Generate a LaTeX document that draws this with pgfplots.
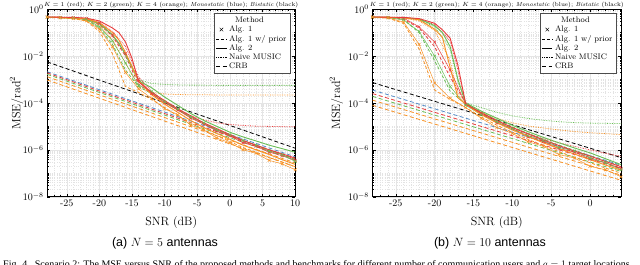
\documentclass[border=0pt]{standalone}
\usepackage{fontspec}
\usepackage{pgfplots}
\pgfplotsset{compat=1.18}
\newfontfamily\capsans{Liberation Sans}
\newfontfamily\capserif{Liberation Serif}
\definecolor{cR}{RGB}{232,60,60}
\definecolor{cG}{RGB}{105,190,85}
\definecolor{cO}{RGB}{247,145,35}
\definecolor{cB}{RGB}{85,140,200}
\newcommand{\lp}[2]{\addplot[#1] table[row sep=\\, header=false, x index=0, y expr=10^(\thisrowno{1})] {#2};}
\pgfplotsset{
 sAlgTwo/.style={line width=0.9pt},
 sPrior/.style={line width=0.8pt, dash pattern=on 3pt off 2pt},
 sAlgOne/.style={line width=0.5pt, mark=x, mark size=2pt, mark options={solid, line width=0.5pt}},
 sMusic/.style={line width=0.8pt, dash pattern=on 0.7pt off 1pt},
 sCRB/.style={line width=0.8pt, dash pattern=on 4pt off 2.5pt},
 legend image code/.code={\draw[mark repeat=2,mark phase=2,#1] plot coordinates {(0cm,0cm) (0.18cm,0cm) (0.36cm,0cm)};},
 every axis title shift=0pt,
 every axis/.append style={
  scale only axis, height=187.5pt,
  ytick={1e-8,1e-6,1e-4,1e-2,1},
  yticklabels={$10^{-8}$,$10^{-6}$,$10^{-4}$,$10^{-2}$,$10^{0}$},
  minor ytick={2e-8,3e-8,4e-8,5e-8,6e-8,7e-8,8e-8,9e-8,1e-7,2e-7,3e-7,4e-7,5e-7,6e-7,7e-7,8e-7,9e-7,2e-6,3e-6,4e-6,5e-6,6e-6,7e-6,8e-6,9e-6,1e-5,2e-5,3e-5,4e-5,5e-5,6e-5,7e-5,8e-5,9e-5,2e-4,3e-4,4e-4,5e-4,6e-4,7e-4,8e-4,9e-4,1e-3,2e-3,3e-3,4e-3,5e-3,6e-3,7e-3,8e-3,9e-3,2e-2,3e-2,4e-2,5e-2,6e-2,7e-2,8e-2,9e-2,1e-1,2e-1,3e-1,4e-1,5e-1,6e-1,7e-1,8e-1,9e-1},
  grid=both,
  major grid style={gray!20, line width=0.4pt},
  minor grid style={gray!22, dotted, line width=0.3pt},
  tick style={black, line width=0.4pt},
  major tick length=3pt, minor tick length=1.5pt,
  axis line style={line width=0.5pt},
  tick label style={font=\fontsize{10}{11}\selectfont},
  label style={font=\fontsize{12}{13}\selectfont},
  xlabel={SNR (dB)},
  ylabel={$\mathrm{MSE}/\mathrm{rad}^2$},
  xlabel style={at={(axis description cs:0.5,-0.138)}, anchor=center},
  title style={font=\fontsize{5.9}{7}\selectfont, at={(0.5,1)}, anchor=base, yshift=3pt},
  title={$K=1$ (red); $K=2$ (green); $K=4$ (orange); \textit{Monostatic} (blue); \textit{Bistatic} (black)},
  legend style={at={(1,1)}, anchor=north east, xshift=-5pt, yshift=-4pt,
    font=\fontsize{8}{8}\selectfont, draw=black!70, line width=0.4pt,
    inner xsep=1.5pt, inner ysep=1.5pt, row sep=-2pt, cells={anchor=west}},
 }
}
\begin{document}
\begin{tikzpicture}
% ---------------- (a) N = 5 ----------------
\begin{axis}[at={(47.2pt,68.3pt)}, anchor=south west, width=248pt,
  ymode=log, ymin=1e-8, ymax=1,
  xmin=-28, xmax=10, xtick={-25,-20,-15,-10,-5,0,5,10},
  xticklabels={-25,-20,-15,-10,-5,0,5,10}, minor xtick={-28,-27,...,10},
  ylabel style={at={(axis description cs:-0.123,0.5)}, anchor=center}]
\addlegendimage{empty legend}\addlegendentry{\hspace*{6pt}Method}
\addlegendimage{black, only marks, mark=x, mark size=2.5pt}\addlegendentry{Alg. 1}
\addlegendimage{black, sPrior}\addlegendentry{Alg. 1 w/ prior}
\addlegendimage{black, line width=1.2pt}\addlegendentry{Alg. 2}
\addlegendimage{black, sMusic}\addlegendentry{Naive MUSIC}
\addlegendimage{black, sCRB}\addlegendentry{CRB}
% CRB
\lp{black, sCRB}{-28 -2.25\\ 10 -5.93\\}
\lp{cB, sCRB}{-28 -2.67\\ 10 -6.30\\}
\lp{cR, sCRB}{-28 -2.72\\ 10 -6.38\\}
\lp{cG, sCRB}{-28 -2.78\\ 10 -6.45\\}
\lp{cO, sCRB}{-28 -2.88\\ 10 -6.56\\}
\lp{cO, sCRB}{-28 -3.02\\ 10 -6.72\\}
% Naive MUSIC
\lp{cR, sMusic}{-28 -0.33\\ -26 -0.34\\ -24 -0.36\\ -22 -0.39\\ -20 -0.55\\ -18 -0.95\\ -16 -1.6\\ -14 -2.9\\ -12 -3.5\\ -10 -3.95\\ -8 -4.3\\ -6 -4.55\\ -4 -4.72\\ -2 -4.85\\ 0 -4.92\\ 2 -4.96\\ 4 -4.99\\ 6 -5.0\\ 8 -5.01\\ 10 -5.02\\}
\lp{cG, sMusic}{-28 -0.34\\ -26 -0.35\\ -24 -0.37\\ -22 -0.41\\ -20 -0.6\\ -18 -1.1\\ -16 -1.9\\ -14 -3.0\\ -12 -3.17\\ -10 -3.21\\ -8 -3.23\\ -6 -3.24\\ -4 -3.24\\ -2 -3.25\\ 0 -3.25\\ 2 -3.25\\ 4 -3.25\\ 6 -3.25\\ 8 -3.25\\ 10 -3.25\\}
\lp{cO, sMusic}{-28 -0.34\\ -26 -0.36\\ -24 -0.38\\ -22 -0.44\\ -20 -0.7\\ -18 -1.3\\ -16 -2.3\\ -14 -3.35\\ -12 -3.55\\ -10 -3.62\\ -8 -3.64\\ -6 -3.65\\ -4 -3.65\\ -2 -3.66\\ 0 -3.66\\ 2 -3.66\\ 4 -3.66\\ 6 -3.66\\ 8 -3.66\\ 10 -3.66\\}
% Alg. 1 w/ prior
\lp{cR, sPrior}{-28 -0.34\\ -26 -0.35\\ -24 -0.37\\ -22 -0.42\\ -20 -0.65\\ -18 -1.15\\ -16 -2.0\\ -14 -3.2\\ -12 -3.6\\ -10 -3.95\\ -8 -4.3\\ -6 -4.6\\ -4 -4.9\\ -2 -5.15\\ 0 -5.4\\ 2 -5.65\\ 4 -5.85\\ 6 -6.05\\ 8 -6.22\\ 10 -6.4\\}
\lp{cG, sPrior}{-28 -0.35\\ -26 -0.36\\ -24 -0.38\\ -22 -0.45\\ -20 -0.8\\ -18 -1.5\\ -16 -2.6\\ -14 -3.3\\ -12 -3.6\\ -10 -3.95\\ -8 -4.3\\ -6 -4.6\\ -4 -4.9\\ -2 -5.15\\ 0 -5.38\\ 2 -5.6\\ 4 -5.8\\ 6 -6.0\\ 8 -6.2\\ 10 -6.4\\}
\lp{cO, sPrior}{-28 -0.35\\ -26 -0.37\\ -24 -0.4\\ -22 -0.5\\ -20 -0.95\\ -18 -1.9\\ -16 -3.3\\ -14 -3.55\\ -12 -3.85\\ -10 -4.2\\ -8 -4.55\\ -6 -4.85\\ -4 -5.15\\ -2 -5.4\\ 0 -5.65\\ 2 -5.9\\ 4 -6.1\\ 6 -6.32\\ 8 -6.52\\ 10 -6.72\\}
% Alg. 1
\lp{cR, sAlgOne}{-28 -0.33\\ -26 -0.35\\ -24 -0.36\\ -22 -0.4\\ -20 -0.6\\ -18 -1.1\\ -16 -1.9\\ -14 -3.0\\ -12 -3.6\\ -10 -4.0\\ -8 -4.3\\ -6 -4.65\\ -4 -4.9\\ -2 -5.2\\ 0 -5.4\\ 2 -5.7\\ 4 -5.85\\ 6 -6.1\\ 8 -6.25\\ 10 -6.45\\}
\lp{cG, sAlgOne}{-28 -0.34\\ -26 -0.36\\ -24 -0.38\\ -22 -0.43\\ -20 -0.75\\ -18 -1.35\\ -16 -2.3\\ -14 -3.25\\ -12 -3.5\\ -10 -3.95\\ -8 -4.25\\ -6 -4.6\\ -4 -4.85\\ -2 -5.15\\ 0 -5.35\\ 2 -5.6\\ 4 -5.8\\ 6 -6.05\\ 8 -6.2\\ 10 -6.5\\}
\lp{cO, sAlgOne}{-28 -0.34\\ -26 -0.37\\ -24 -0.4\\ -22 -0.5\\ -20 -0.85\\ -18 -1.6\\ -16 -2.7\\ -14 -3.4\\ -12 -3.8\\ -10 -4.25\\ -8 -4.5\\ -6 -4.95\\ -4 -5.15\\ -2 -5.5\\ 0 -5.7\\ 2 -6.0\\ 4 -6.15\\ 6 -6.45\\ 8 -6.6\\ 10 -6.85\\}
% Alg. 2
\lp{cG, sAlgTwo}{-28 -0.34\\ -26 -0.35\\ -24 -0.37\\ -22 -0.42\\ -20 -0.62\\ -18 -1.1\\ -17 -1.45\\ -16 -1.95\\ -15 -2.5\\ -14 -3.05\\ -12 -3.35\\ -10 -3.75\\ -8 -4.1\\ -6 -4.45\\ -4 -4.75\\ -2 -5.0\\ 0 -5.25\\ 2 -5.45\\ 4 -5.62\\ 6 -5.8\\ 8 -5.95\\ 10 -6.1\\}
\lp{cO, sAlgTwo}{-28 -0.34\\ -26 -0.35\\ -24 -0.37\\ -22 -0.41\\ -20 -0.58\\ -18 -1.0\\ -17 -1.32\\ -16 -1.85\\ -15 -2.45\\ -14 -3.05\\ -12 -3.65\\ -10 -4.05\\ -8 -4.4\\ -6 -4.75\\ -4 -5.05\\ -2 -5.3\\ 0 -5.55\\ 2 -5.8\\ 4 -6.0\\ 6 -6.2\\ 8 -6.42\\ 10 -6.62\\}
\lp{cR, sAlgTwo}{-28 -0.33\\ -26 -0.34\\ -24 -0.35\\ -22 -0.38\\ -20 -0.5\\ -18 -0.8\\ -17 -1.0\\ -16 -1.4\\ -15 -2.1\\ -14 -3.1\\ -12 -3.55\\ -10 -3.9\\ -8 -4.25\\ -6 -4.55\\ -4 -4.85\\ -2 -5.1\\ 0 -5.35\\ 2 -5.6\\ 4 -5.8\\ 6 -6.0\\ 8 -6.17\\ 10 -6.35\\}
\end{axis}
% ---------------- (b) N = 10 ----------------
\begin{axis}[at={(372.5pt,68.3pt)}, anchor=south west, width=248.6pt,
  ymode=log, ymin=1e-8, ymax=1,
  xmin=-28, xmax=4, xtick={-25,-20,-15,-10,-5,0},
  xticklabels={-25,-20,-15,-10,-5,0}, minor xtick={-28,-27,...,4},
  ylabel style={at={(axis description cs:-0.145,0.5)}, anchor=center}]
\addlegendimage{empty legend}\addlegendentry{\hspace*{6pt}Method}
\addlegendimage{black, only marks, mark=x, mark size=2.5pt}\addlegendentry{Alg. 1}
\addlegendimage{black, sPrior}\addlegendentry{Alg. 1 w/ prior}
\addlegendimage{black, line width=1.2pt}\addlegendentry{Alg. 2}
\addlegendimage{black, sMusic}\addlegendentry{Naive MUSIC}
\addlegendimage{black, sCRB}\addlegendentry{CRB}
% CRB
\lp{black, sCRB}{-28 -3.13\\ 4 -6.33\\}
\lp{cB, sCRB}{-28 -3.45\\ 4 -6.65\\}
\lp{cR, sCRB}{-28 -3.60\\ 4 -6.80\\}
\lp{cG, sCRB}{-28 -3.72\\ 4 -6.92\\}
\lp{cO, sCRB}{-28 -3.88\\ 4 -7.08\\}
\lp{cO, sCRB}{-28 -4.10\\ 4 -7.30\\}
% Naive MUSIC
\lp{cR, sMusic}{-28 -0.33\\ -26 -0.34\\ -24 -0.36\\ -22 -0.42\\ -20 -0.65\\ -18 -1.35\\ -17 -2.6\\ -16 -4.05\\ -14 -4.42\\ -12 -4.75\\ -10 -5.05\\ -8 -5.3\\ -6 -5.52\\ -4 -5.7\\ -2 -5.85\\ 0 -6.0\\ 2 -6.15\\ 4 -6.28\\}
\lp{cG, sMusic}{-28 -0.34\\ -26 -0.35\\ -24 -0.37\\ -22 -0.45\\ -20 -0.75\\ -18 -1.7\\ -17 -3.1\\ -16 -4.0\\ -14 -4.2\\ -12 -4.4\\ -10 -4.55\\ -8 -4.66\\ -6 -4.74\\ -4 -4.8\\ -2 -4.84\\ 0 -4.86\\ 2 -4.87\\ 4 -4.88\\}
\lp{cO, sMusic}{-28 -0.34\\ -26 -0.36\\ -24 -0.38\\ -22 -0.5\\ -20 -0.9\\ -18 -2.2\\ -17 -3.6\\ -16 -4.05\\ -14 -4.4\\ -12 -4.65\\ -10 -4.85\\ -8 -4.98\\ -6 -5.07\\ -4 -5.15\\ -2 -5.22\\ 0 -5.27\\ 2 -5.31\\ 4 -5.35\\}
% Alg. 1 w/ prior
\lp{cR, sPrior}{-28 -0.34\\ -26 -0.35\\ -24 -0.42\\ -22 -0.8\\ -20 -1.6\\ -18 -2.9\\ -16 -4.0\\ -14 -4.45\\ -12 -4.8\\ -10 -5.1\\ -8 -5.38\\ -6 -5.64\\ -4 -5.88\\ -2 -6.1\\ 0 -6.33\\ 2 -6.56\\ 4 -6.78\\}
\lp{cG, sPrior}{-28 -0.34\\ -26 -0.36\\ -24 -0.45\\ -22 -1.0\\ -20 -2.2\\ -18 -3.5\\ -16 -4.05\\ -14 -4.4\\ -12 -4.72\\ -10 -5.02\\ -8 -5.3\\ -6 -5.55\\ -4 -5.8\\ -2 -6.02\\ 0 -6.25\\ 2 -6.48\\ 4 -6.7\\}
\lp{cO, sPrior}{-28 -0.35\\ -26 -0.38\\ -24 -0.6\\ -22 -1.7\\ -20 -3.45\\ -18 -3.85\\ -16 -4.2\\ -14 -4.6\\ -12 -4.95\\ -10 -5.25\\ -8 -5.55\\ -6 -5.82\\ -4 -6.08\\ -2 -6.32\\ 0 -6.55\\ 2 -6.78\\ 4 -7.0\\}
% Alg. 1
\lp{cR, sAlgOne}{-28 -0.33\\ -26 -0.35\\ -24 -0.38\\ -22 -0.75\\ -20 -1.4\\ -18 -2.6\\ -16 -4.05\\ -14 -4.45\\ -12 -4.85\\ -10 -5.1\\ -8 -5.45\\ -6 -5.65\\ -4 -5.95\\ -2 -6.1\\ 0 -6.4\\ 2 -6.55\\ 4 -6.8\\}
\lp{cG, sAlgOne}{-28 -0.34\\ -26 -0.36\\ -24 -0.45\\ -22 -0.95\\ -20 -2.0\\ -18 -3.3\\ -16 -4.1\\ -14 -4.5\\ -12 -4.8\\ -10 -5.1\\ -8 -5.4\\ -6 -5.6\\ -4 -5.9\\ -2 -6.05\\ 0 -6.35\\ 2 -6.55\\ 4 -6.85\\}
\lp{cO, sAlgOne}{-28 -0.34\\ -26 -0.37\\ -24 -0.55\\ -22 -1.5\\ -20 -3.15\\ -18 -3.8\\ -16 -4.2\\ -14 -4.65\\ -12 -5.05\\ -10 -5.3\\ -8 -5.65\\ -6 -5.85\\ -4 -6.2\\ -2 -6.35\\ 0 -6.7\\ 2 -6.85\\ 4 -7.15\\}
% Alg. 2
\lp{cG, sAlgTwo}{-28 -0.34\\ -26 -0.35\\ -24 -0.36\\ -22 -0.42\\ -20 -0.7\\ -19 -1.0\\ -18 -1.6\\ -17 -3.0\\ -16 -4.0\\ -14 -4.35\\ -12 -4.65\\ -10 -4.95\\ -8 -5.22\\ -6 -5.47\\ -4 -5.7\\ -2 -5.92\\ 0 -6.13\\ 2 -6.38\\ 4 -6.63\\}
\lp{cO, sAlgTwo}{-28 -0.34\\ -26 -0.35\\ -24 -0.37\\ -22 -0.45\\ -20 -0.85\\ -19 -1.2\\ -18 -2.5\\ -17 -3.78\\ -16 -4.05\\ -14 -4.5\\ -12 -4.85\\ -10 -5.15\\ -8 -5.43\\ -6 -5.7\\ -4 -5.95\\ -2 -6.18\\ 0 -6.42\\ 2 -6.65\\ 4 -6.87\\}
\lp{cR, sAlgTwo}{-28 -0.33\\ -26 -0.34\\ -24 -0.35\\ -22 -0.4\\ -20 -0.6\\ -19 -0.88\\ -18 -1.24\\ -17 -2.4\\ -16 -4.05\\ -14 -4.42\\ -12 -4.75\\ -10 -5.05\\ -8 -5.32\\ -6 -5.58\\ -4 -5.82\\ -2 -6.05\\ 0 -6.27\\ 2 -6.5\\ 4 -6.72\\}
\end{axis}
% captions
\node[font=\capsans\fontsize{12.5}{13}\selectfont, anchor=base] at (165pt,18pt) {(a) $N=5$ antennas};
\node[font=\capsans\fontsize{12.5}{13}\selectfont, anchor=base] at (490pt,18pt) {(b) $N=10$ antennas};
\node[font=\capserif\fontsize{10}{11}\selectfont, anchor=base west, inner sep=0pt] at (3pt,-3pt) {Fig. 4.\ \ Scenario 2: The MSE versus SNR of the proposed methods and benchmarks for different number of communication users and $q=1$ target locations.};
\pgfresetboundingbox
\path[use as bounding box] (0pt,0pt) rectangle (640pt,265pt);
\end{tikzpicture}
\end{document}
